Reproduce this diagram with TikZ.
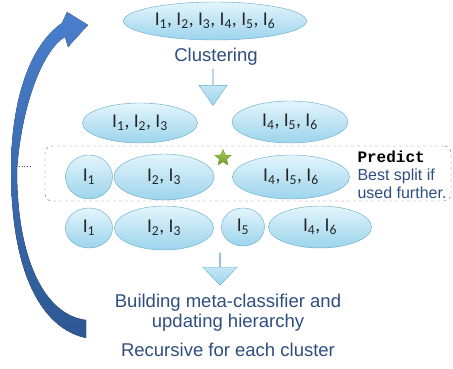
\documentclass[tikz,border=0pt]{standalone}
\usepackage{fontspec}
\setmainfont{Liberation Sans}
\setmonofont{Liberation Mono}
\newfontfamily\calibri{Carlito}
\usetikzlibrary{shapes, shapes.arrows, positioning, arrows}
\definecolor{ellTop}{HTML}{E3F5FC}
\definecolor{ellBottom}{HTML}{9CD4EC}
\definecolor{ellBorder}{HTML}{62A9C6}
\definecolor{textColor}{HTML}{2E4E80}
\definecolor{loopTop}{HTML}{4A7FCC}
\definecolor{loopBottom}{HTML}{2C5893}
\definecolor{starTop}{HTML}{A8C85A}
\definecolor{starBottom}{HTML}{6F9A2C}
\colorlet{dashColor}{black!55}
\tikzstyle{cluster}=[ellipse, draw=ellBorder, top color=ellTop, bottom color=ellBottom,
inner sep=0pt, text=black!85, font=\calibri\fontsize{19.5}{21}\selectfont]
\tikzstyle{flowText}=[text=textColor, align=center, font=\fontsize{18.5}{20}\selectfont]
\tikzstyle{blockArrow}=[single arrow, shape border rotate=270, draw=ellBorder,
top color=ellTop, bottom color=ellBottom, inner sep=0pt]
\newcommand{\Ix}[1]{I\textsubscript{#1}}

\begin{document}
\begin{tikzpicture}[x=1pt, y=-1pt]
    \useasboundingbox (0,0) rectangle (453,369);
    % loop arrow on the left
    \fill[top color=loopTop, bottom color=loopBottom]
      (86,338) .. controls (40,328) and (11,270) .. (11,170)
      .. controls (11,100) and (30,45) .. (62,23) -- (67,12) -- (88,25)
      -- (68,47) -- (65,37) .. controls (45,48) and (22,100) .. (17,170)
      .. controls (17,260) and (45,315) .. (86,320) -- cycle;
    \coordinate (dotsL) at (16,166);
    \coordinate (dotsR) at (32,166);
    \draw[dotted, thick, black!70] (dotsL) -- (dotsR);
    % clustering
    \node (all) [cluster, minimum width=183, minimum height=38] at (215,21)
      {\Ix1, \Ix2, \Ix3, \Ix4, \Ix5, \Ix6};
    \node (clustering) [flowText] at (216,57) {Clustering};
    \node (arrowA) [blockArrow, minimum height=36, minimum width=28,
      single arrow head extend=5, single arrow tip angle=70] at (213,87) {};
    \node (left) [cluster, minimum width=115, minimum height=40] at (140,123)
      {\Ix1, \Ix2, \Ix3};
    \node (right) [cluster, minimum width=116, minimum height=42] at (290,122)
      {\Ix4, \Ix5, \Ix6};
    % split that is predicted
    \node (splitBox) [draw=dashColor, dashed, rounded corners=7pt,
      minimum width=406, minimum height=55] at (248,173.5) {};
    \node (p1) [cluster, minimum width=47, minimum height=44] at (89,177) {\Ix1};
    \node (p23) [cluster, minimum width=100, minimum height=46] at (164,177)
      {\Ix2, \Ix3};
    \node (p456) [cluster, minimum width=117, minimum height=44] at (291,177)
      {\Ix4, \Ix5, \Ix6};
    \node (best) [star, star points=5, star point ratio=2.2, draw=starBottom,
      top color=starTop, bottom color=starBottom, minimum size=17, inner sep=0pt]
      at (223,158) {};
    \node (predict) [anchor=west, align=left, text=textColor,
      font=\fontsize{16}{18}\selectfont] at (354,175)
      {{\color{black}\ttfamily\bfseries Predict}\\Best split if\\used further.};
    % split that is built
    \node (b1) [cluster, minimum width=47, minimum height=40] at (89,228) {\Ix1};
    \node (b23) [cluster, minimum width=99, minimum height=44] at (164,228)
      {\Ix2, \Ix3};
    \node (b5) [cluster, minimum width=43, minimum height=38] at (243,227) {\Ix5};
    \node (b46) [cluster, minimum width=103, minimum height=42] at (320,227)
      {\Ix4, \Ix6};
    \node (arrowB) [blockArrow, minimum height=32, minimum width=34,
      single arrow head extend=9.5, single arrow tip angle=87] at (220,269) {};
    \node (building) [flowText] at (228,313)
      {Building meta-classifier and\\updating hierarchy};
    \node (recursive) [flowText, below=4pt of building] {Recursive for each cluster};
\end{tikzpicture}
\end{document}
